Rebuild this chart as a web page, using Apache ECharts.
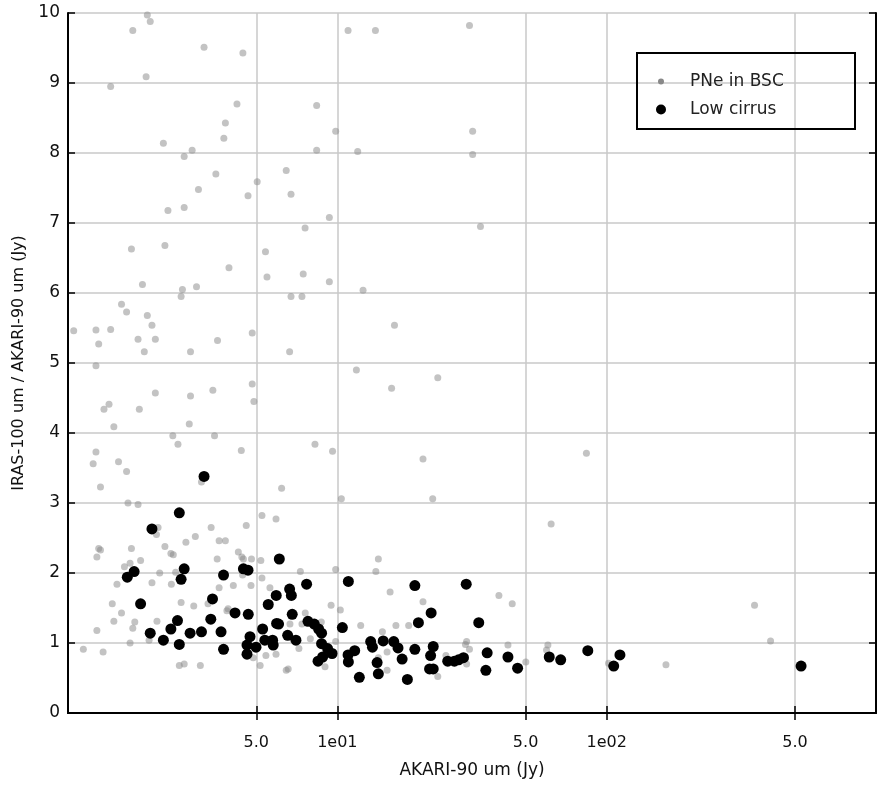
<!DOCTYPE html>
<html lang="en">
<head>
<meta charset="UTF-8">
<title>AKARI vs IRAS</title>
<style>html,body{margin:0;padding:0;background:#fff}</style>
</head>
<body>
<div id="main" style="width:886px;height:789px"></div>
<script src="https://cdn.jsdelivr.net/npm/echarts@6/dist/echarts.min.js"></script>
<script>
// tick positions on the log x axis and how they are printed
var xTicks = [5, 10, 50, 100, 500];
var xTickLabels = ['5.0', '1e01', '5.0', '1e02', '5.0'];

// PNe in BSC (grey)
var pneX = [1.97, 2.02, 1.74, 3.20, 4.46, 1.95, 1.44, 4.24, 3.84, 2.26, 3.79, 2.89, 2.70, 3.54, 5.04, 3.05, 4.66, 2.35, 2.70,
    1.72, 2.29, 5.41, 3.96, 5.48, 1.89, 2.66, 2.63, 3.00, 1.58, 1.65, 1.97, 2.05, 1.05, 1.27, 1.44, 1.30, 1.82, 2.11, 3.59,
    4.83, 1.92, 2.85, 1.27, 4.83, 4.90, 2.11, 2.85, 3.45, 1.42, 1.36, 1.84, 1.48, 2.82, 2.45, 2.56, 3.50, 4.40, 1.27, 1.24,
    1.54, 1.65, 1.32, 3.13, 1.67, 1.82, 2.16, 2.13, 5.25, 5.92, 3.40, 4.59, 2.97, 2.74, 3.64, 3.84, 2.29, 1.30, 1.32, 1.72,
    1.28, 1.86, 2.41, 2.46, 3.58, 4.29, 4.42, 4.48, 4.80, 5.20, 1.70, 1.62, 2.19, 2.51, 4.45, 5.25, 1.52, 2.05, 2.42, 3.64,
    4.11, 4.78, 5.62, 1.46, 1.58, 2.63, 2.93, 3.31, 3.89, 3.93, 1.48, 1.28, 1.77, 1.74, 2.14, 1.70, 2.00, 1.14, 1.35, 4.87,
    5.43, 5.17, 2.59, 2.70, 3.10, 10.96, 13.85, 30.95, 8.38, 9.86, 8.38, 11.90, 31.8, 31.8, 6.46, 6.73, 9.34, 7.59, 34.0,
    7.47, 9.34, 12.46, 6.73, 7.39, 16.3, 6.65, 11.77, 23.6, 15.9, 8.26, 9.60, 20.8, 6.21, 10.35, 22.6, 14.2, 13.9, 7.29,
    9.86, 15.7, 9.48, 10.26, 20.8, 39.8, 7.60, 6.67, 7.39, 12.21, 16.5, 18.4, 14.7, 8.72, 7.94, 9.86, 7.20, 5.92, 6.46,
    6.57, 9.00, 15.3, 15.3, 23.6, 25.3, 30.2, 29.9, 30.95, 30.2, 14.2, 44.6, 62.2, 354, 406, 43.0, 50.1, 60.5, 59.8, 101.6,
    166, 84.1];
var pneY = [9.97, 9.88, 9.75, 9.51, 9.43, 9.09, 8.95, 8.70, 8.43, 8.14, 8.21, 8.04, 7.95, 7.70, 7.59, 7.48, 7.39, 7.18, 7.22,
    6.63, 6.68, 6.59, 6.36, 6.23, 6.12, 6.05, 5.95, 6.09, 5.84, 5.73, 5.68, 5.54, 5.46, 5.47, 5.48, 5.27, 5.34, 5.34, 5.32,
    5.43, 5.16, 5.16, 4.96, 4.70, 4.45, 4.57, 4.53, 4.61, 4.41, 4.34, 4.34, 4.09, 4.13, 3.96, 3.84, 3.96, 3.75, 3.73, 3.56,
    3.59, 3.45, 3.23, 3.30, 3.00, 2.98, 2.65, 2.55, 2.82, 2.77, 2.65, 2.68, 2.52, 2.44, 2.46, 2.46, 2.38, 2.35, 2.33, 2.35,
    2.23, 2.18, 2.28, 2.26, 2.20, 2.30, 2.23, 2.20, 2.20, 2.18, 2.14, 2.09, 2.00, 2.01, 1.97, 1.93, 1.84, 1.86, 1.84, 1.79,
    1.82, 1.82, 1.79, 1.56, 1.43, 1.58, 1.53, 1.56, 1.46, 1.49, 1.31, 1.18, 1.30, 1.21, 1.31, 1.00, 1.04, 0.91, 0.87, 0.79,
    0.82, 0.68, 0.68, 0.70, 0.68, 9.75, 9.75, 9.82, 8.68, 8.31, 8.04, 8.02, 8.31, 7.98, 7.75, 7.41, 7.08, 6.93, 6.95,
    6.27, 6.16, 6.04, 5.95, 5.95, 5.54, 5.16, 4.90, 4.79, 4.64, 3.84, 3.74, 3.63, 3.21, 3.06, 3.06, 2.20, 2.02, 2.02,
    2.05, 1.73, 1.54, 1.47, 1.59, 1.68, 1.43, 1.27, 1.27, 1.25, 1.25, 1.25, 1.16, 1.30, 1.06, 1.02, 0.92, 0.84, 0.61,
    0.63, 0.66, 0.87, 0.61, 0.52, 0.82, 1.02, 0.98, 0.91, 0.70, 0.79, 1.56, 2.70, 1.54, 1.03, 0.97, 0.73, 0.97, 0.90, 0.71,
    0.69, 3.71];

// Low cirrus (black)
var cirrusX = [3.20, 2.59, 2.05, 1.76, 1.66, 2.70, 2.63, 3.78, 4.48, 4.66, 6.09, 1.86, 3.44, 5.93, 5.54, 4.17, 4.67, 2.55,
    2.41, 2.02, 2.26, 2.59, 2.84, 3.13, 3.39, 3.70, 3.78, 4.74, 4.62, 4.99, 4.62, 5.28, 5.38, 5.75, 5.95, 5.78, 10.99, 7.69,
    19.4, 30.1, 6.65, 6.75, 6.80, 22.3, 6.05, 7.78, 8.21, 8.52, 8.74, 10.44, 20.0, 33.5, 6.54, 7.02, 8.74, 9.20, 9.56, 8.82,
    8.48, 13.3, 13.5, 14.8, 16.2, 16.8, 17.4, 19.4, 22.7, 22.2, 22.0, 22.7, 10.96, 11.6, 10.99, 14.05, 14.2, 12.07, 18.2,
    25.7, 27.2, 28.2, 29.4, 36.0, 35.6, 43.0, 46.7, 61.2, 67.5, 85.1, 106.2, 112, 527];
var cirrusY = [3.38, 2.86, 2.63, 2.02, 1.94, 2.06, 1.91, 1.97, 2.06, 2.04, 2.20, 1.56, 1.63, 1.68, 1.55, 1.43, 1.41, 1.32,
    1.20, 1.14, 1.04, 0.98, 1.14, 1.16, 1.34, 1.16, 0.91, 1.09, 0.97, 0.94, 0.84, 1.20, 1.04, 1.04, 1.28, 0.97, 1.88, 1.84,
    1.82, 1.84, 1.77, 1.68, 1.41, 1.43, 1.27, 1.31, 1.27, 1.20, 1.14, 1.22, 1.29, 1.29, 1.11, 1.04, 0.99, 0.92, 0.85, 0.80,
    0.74, 1.02, 0.94, 1.03, 1.02, 0.93, 0.77, 0.91, 0.95, 0.82, 0.63, 0.63, 0.83, 0.89, 0.73, 0.72, 0.56, 0.51, 0.48,
    0.74, 0.74, 0.76, 0.79, 0.86, 0.61, 0.80, 0.64, 0.80, 0.76, 0.89, 0.67, 0.83, 0.67];

function pairs(xs, ys) {
    return xs.map(function (x, i) { return [x, ys[i]]; });
}

var font = 'DejaVu Sans';
var myChart = echarts.init(document.getElementById('main'));

function tickText(v) {
    for (var i = 0; i < xTicks.length; i++) {
        if (Math.abs(v - xTicks[i]) / xTicks[i] < 1e-6) return xTickLabels[i];
    }
    return '';
}

var frame = {show: true, lineStyle: {color: '#000', width: 2}};
var tick = {show: true, inside: true, length: 7, lineStyle: {color: '#000', width: 1.5}};

var option = {
    animation: false,
    backgroundColor: '#fff',
    grid: {left: 68, right: 10, top: 13, bottom: 76},
    xAxis: [{
        type: 'log', logBase: 10, min: 1, max: 1000, position: 'bottom',
        name: 'AKARI-90 um (Jy)', nameLocation: 'middle', nameGap: 49,
        nameTextStyle: {fontFamily: font, fontSize: 17, color: '#111'},
        axisLine: frame,
        axisTick: Object.assign({customValues: xTicks}, tick),
        minorTick: {show: false},
        axisLabel: {customValues: xTicks, formatter: tickText, margin: 22, fontFamily: font, fontSize: 16, color: '#111'},
        splitLine: {show: true, lineStyle: {color: '#c8c8c8', width: 1.5}}
    }, {
        type: 'log', logBase: 10, min: 1, max: 1000, position: 'top',
        axisLine: frame,
        axisTick: Object.assign({customValues: xTicks}, tick),
        axisLabel: {show: false},
        splitLine: {show: false}
    }],
    yAxis: [{
        type: 'value', min: 0, max: 10, interval: 1, position: 'left',
        name: 'IRAS-100 um / AKARI-90 um (Jy)', nameLocation: 'middle', nameGap: 41,
        nameTextStyle: {fontFamily: font, fontSize: 16, color: '#111'},
        axisLine: frame,
        axisTick: tick,
        axisLabel: {margin: 8, fontFamily: font, fontSize: 17, color: '#111'},
        splitLine: {show: true, lineStyle: {color: '#c8c8c8', width: 1.5}}
    }, {
        type: 'value', min: 0, max: 10, interval: 1, position: 'right',
        axisLine: frame,
        axisTick: tick,
        axisLabel: {show: false},
        splitLine: {show: false}
    }],
    legend: [{
        data: [{name: 'PNe in BSC', icon: 'circle', itemStyle: {color: '#888888', opacity: 1}}],
        left: 658, top: 73, itemWidth: 6, itemHeight: 6, padding: 0,
        textStyle: {fontFamily: font, fontSize: 17, color: '#222', padding: [0, 0, 0, 21]}
    }, {
        data: [{name: 'Low cirrus', icon: 'circle', itemStyle: {color: '#000000', opacity: 1}}],
        left: 656, top: 101, itemWidth: 10, itemHeight: 10, padding: 0,
        textStyle: {fontFamily: font, fontSize: 17, color: '#222', padding: [0, 0, 0, 19]}
    }],
    graphic: [{
        type: 'rect', left: 636, top: 52, z: 100,
        shape: {width: 218, height: 76},
        style: {fill: 'rgba(0,0,0,0)', stroke: '#000', lineWidth: 2}
    }],
    series: [{
        name: 'PNe in BSC', type: 'scatter', symbolSize: 7,
        itemStyle: {color: '#888888', opacity: 0.5},
        data: pairs(pneX, pneY)
    }, {
        name: 'Low cirrus', type: 'scatter', symbolSize: 11,
        itemStyle: {color: '#000000', opacity: 1},
        data: pairs(cirrusX, cirrusY)
    }]
};

myChart.setOption(option);
</script>
</body>
</html>
